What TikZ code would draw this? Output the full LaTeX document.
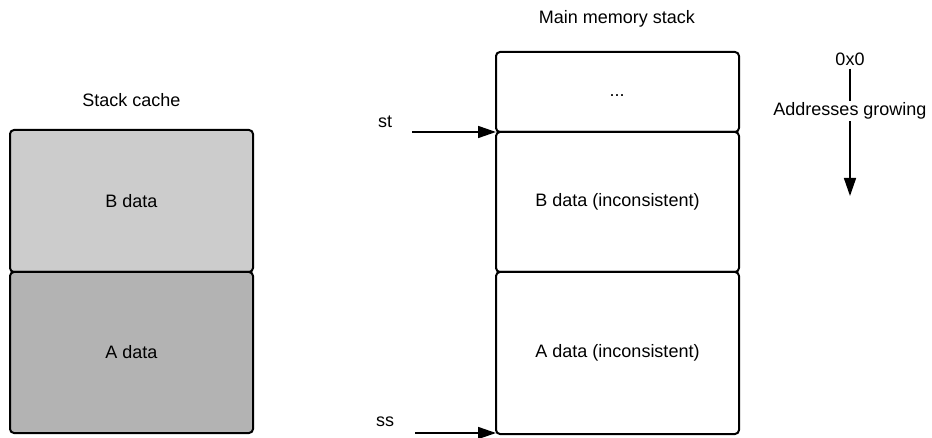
\documentclass[tikz,border=0pt]{standalone}
\usepackage{fontspec}
\setmainfont{Liberation Sans}
\usetikzlibrary{arrows.meta}
\definecolor{cacheB}{HTML}{CCCCCC}
\definecolor{cacheA}{HTML}{B3B3B3}
\begin{document}
\begin{tikzpicture}[x=1pt,y=-1pt,
  font=\fontsize{18}{21}\selectfont,
  block/.style={draw=black,line width=2pt,rounded corners=4pt,minimum width=243pt,inner sep=0pt,outer sep=0pt},
  label/.style={inner sep=0pt},
  ptr/.style={line width=1.6pt,-{Triangle[length=18pt,width=12pt]}}]
\useasboundingbox (0,0) rectangle (932,438);

% stack cache
\node[label] (cachetitle) at (131.5,100) {Stack cache};
\node[block,fill=cacheB,minimum height=142pt] (cB) at (131.5,201) {B data};
\node[block,fill=cacheA,minimum height=161pt] (cA) at (131.5,352.5) {A data};

% main memory stack
\node[label] (memtitle) at (617,19) {Main memory stack};
\node[block,fill=white,minimum height=80pt] (mTop) at (617.5,92) {};
\node[label,anchor=base] at (617,97) (dots) {...};
\node[block,fill=white,minimum height=140pt] (mB) at (617.5,202) {B data (inconsistent)};
\node[block,fill=white,minimum height=162pt] (mA) at (617.5,353) {A data (inconsistent)};

% stack pointers
\node[label] (st) at (385,122) {st};
\node[label] (ss) at (385,422) {ss};
\coordinate (stFrom) at (412,132);
\coordinate (ssFrom) at (415,433);
\draw[ptr] (stFrom) -- (stFrom -| mB.west);
\draw[ptr] (ssFrom) -- (ssFrom -| mA.west);

% address direction
\node[label] (zero) at (850,59) {0x0};
\coordinate (addrEnd) at (850,196);
\draw[ptr,shorten <=3pt] (zero.south) -- (addrEnd);
\node[label,fill=white,inner ysep=2pt] (grow) at (850,111) {Addresses growing};
\end{tikzpicture}
\end{document}
